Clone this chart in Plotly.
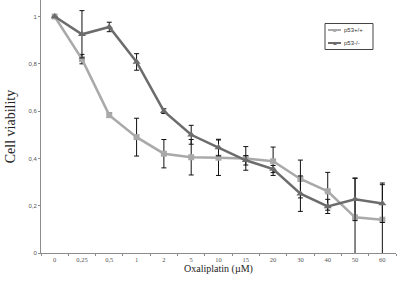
import plotly.graph_objects as go

categories = ["0", "0,25", "0,5", "1", "2", "5", "10", "15", "20", "30", "40", "50", "60"]
wt_values = [1.0, 0.82, 0.583, 0.49, 0.42, 0.405, 0.403, 0.40, 0.388, 0.313, 0.261, 0.151, 0.141]
wt_errors = [0.0, 0.02, 0.01, 0.08, 0.06, 0.075, 0.075, 0.05, 0.06, 0.08, 0.08, 0.165, 0.155]
ko_values = [1.0, 0.925, 0.956, 0.808, 0.600, 0.500, 0.446, 0.392, 0.355, 0.251, 0.197, 0.227, 0.209]
ko_errors = [0.0, 0.10, 0.02, 0.035, 0.01, 0.04, 0.035, 0.02, 0.015, 0.075, 0.03, 0.09, 0.08]
y_ticks = [0, 0.2, 0.4, 0.6, 0.8, 1]
y_ticklabels = ["0", "0,2", "0,4", "0,6", "0,8", "1"]
series_names = ["p53+/+", "p53-/-"]
series_colors = ["#a9a9a9", "#6c6c6c"]
legend_symbols = ["■", "▲"]

fig = go.Figure()
fig.add_trace(go.Scatter(
    x=categories, y=wt_values, name=series_names[0], mode="lines+markers",
    line=dict(color=series_colors[0], width=2.5),
    marker=dict(symbol="square", size=6, color=series_colors[0]),
    error_y=dict(type="data", array=wt_errors, color="#111111", thickness=1, width=2.5),
))
fig.add_trace(go.Scatter(
    x=categories, y=ko_values, name=series_names[1], mode="lines+markers",
    line=dict(color=series_colors[1], width=2.5),
    marker=dict(symbol="triangle-up", size=7, color=series_colors[1]),
    error_y=dict(type="data", array=ko_errors, color="#111111", thickness=1, width=2.5),
))

# manual compact legend (paper coordinates)
W, H = 398, 282
ml, mr, mt, mb = 41, 2, 0, 29
pw, ph = W - ml - mr, H - mt - mb
def px(x):
    return (x - ml) / pw
def py(y):
    return 1 - (y - mt) / ph

shapes = [dict(type="rect", xref="paper", yref="paper",
               x0=px(325), x1=px(373), y0=py(49.5), y1=py(23.5),
               line=dict(color="#444444", width=1), fillcolor="white")]
annotations = []
for i, (nm, col, sym) in enumerate(zip(series_names, series_colors, legend_symbols)):
    yy = 30 + i * 13
    shapes.append(dict(type="line", xref="paper", yref="paper",
                       x0=px(328), x1=px(341), y0=py(yy), y1=py(yy),
                       line=dict(color=col, width=2)))
    annotations.append(dict(xref="paper", yref="paper", x=px(334.5), y=py(yy),
                            text=sym, showarrow=False, xanchor="center", yanchor="middle",
                            font=dict(size=6, color=col)))
    annotations.append(dict(xref="paper", yref="paper", x=px(342), y=py(yy),
                            text=nm, showarrow=False, xanchor="left", yanchor="middle",
                            font=dict(size=6, family="Liberation Sans", color="#333333")))

fig.update_layout(
    width=W, height=H,
    margin=dict(l=ml, r=mr, t=mt, b=mb, autoexpand=False),
    plot_bgcolor="white", paper_bgcolor="white",
    showlegend=False,
    shapes=shapes, annotations=annotations,
    xaxis=dict(
        type="category", range=[-0.5, 12.5], automargin=False,
        showline=True, linecolor="#8c8c8c", linewidth=1,
        ticks="outside", ticklen=2, tickcolor="#8c8c8c", tickson="boundaries",
        showgrid=False, zeroline=False,
        tickfont=dict(size=6.5, family="Liberation Serif", color="#555555"),
        title=dict(text="Oxaliplatin (µM)", font=dict(size=10, family="Liberation Serif", color="#222222"), standoff=1),
    ),
    yaxis=dict(
        range=[0, 1.07], automargin=False,
        tickvals=y_ticks, ticktext=y_ticklabels,
        showline=True, linecolor="#8c8c8c", linewidth=1,
        ticks="outside", ticklen=2, tickcolor="#8c8c8c",
        showgrid=False, zeroline=False,
        tickfont=dict(size=6, family="Liberation Sans", color="#555555"),
        title=dict(text="Cell viability", font=dict(size=14, family="Liberation Serif", color="#222222"), standoff=9),
    ),
)

fig.write_html("out.html", config={"displayModeBar": False},
               post_script="document.body.style.margin='0';document.body.style.overflow='hidden';")
